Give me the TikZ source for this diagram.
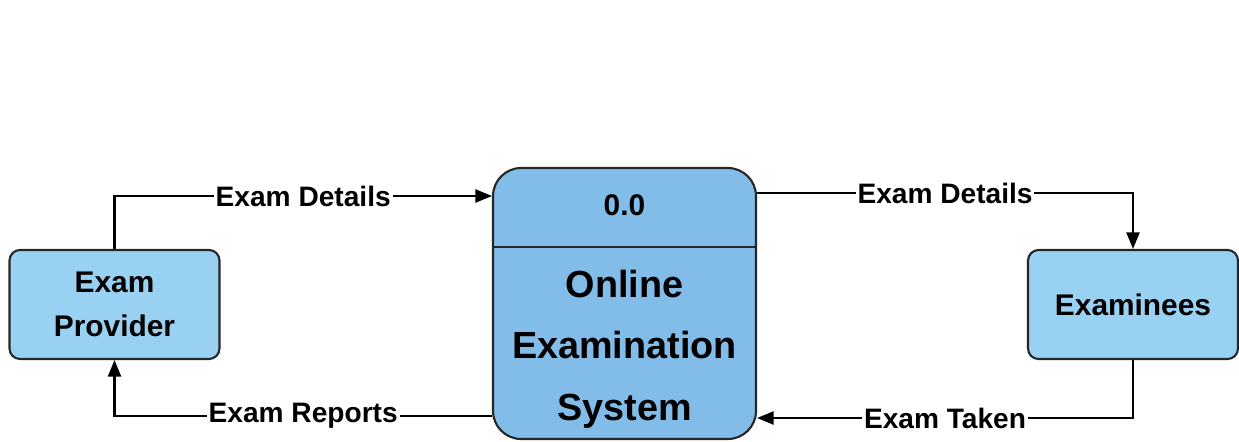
\documentclass[tikz,border=0pt]{standalone}
\usepackage{fontspec}
\setmainfont{Liberation Sans}
\usetikzlibrary{arrows.meta}
\definecolor{entblue}{RGB}{153,209,242}
\definecolor{procblue}{RGB}{130,188,232}
\begin{document}
\begin{tikzpicture}[line width=1.2pt,
    entity/.style={draw=black!85,fill=entblue,rounded corners=6pt,minimum width=4.2cm,minimum height=2.18cm,align=center,font=\bfseries\fontsize{17}{25}\selectfont},
    process/.style={draw=black!85,fill=procblue,rounded corners=16pt,minimum width=5.26cm,minimum height=5.42cm},
    flow/.style={-{Triangle[length=3.3mm,width=2.6mm]}},
    flowlabel/.style={fill=white,inner sep=1pt,font=\bfseries\fontsize{16}{19}\selectfont}]
    \useasboundingbox (0,0) rectangle (24.78,8.82);
    % external entities and the process
    \node[entity] (prov) at (2.29,2.73) {Exam\\Provider};
    \node[entity] (exee) at (22.66,2.73) {Examinees};
    \node[process] (sys) at (12.49,2.75) {};
    \draw[black!85] (sys.west |- 0,3.88) -- (sys.east |- 0,3.88);
    \node[font=\bfseries\fontsize{17}{20}\selectfont] (num) at (12.49,4.72) {0.0};
    \node[align=center,font=\bfseries\fontsize{21.5}{35}\selectfont] (name) at (12.49,1.84) {Online\\Examination\\System};
    % data flows
    \draw[flow] (prov.north) |- ([yshift=2.15cm]sys.west)
        node[flowlabel,pos=.75] {Exam Details};
    \draw[flow] ([yshift=-2.25cm]sys.west) -| (prov.south)
        node[flowlabel,pos=.25] {Exam Reports};
    \draw[flow] ([yshift=2.21cm]sys.east) -| (exee.north)
        node[flowlabel,pos=.25] {Exam Details};
    \draw[flow] (exee.south) |- ([yshift=-2.29cm]sys.east)
        node[flowlabel,pos=.75] {Exam Taken};
\end{tikzpicture}
\end{document}
